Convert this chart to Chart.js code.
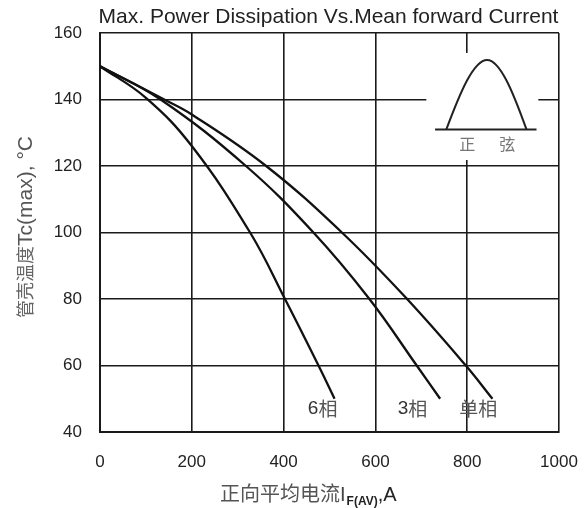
<!DOCTYPE html>
<html><head><meta charset="utf-8">
<script src="https://cdn.jsdelivr.net/npm/chart.js@4.4.1/dist/chart.umd.min.js"></script>
<style>html,body{margin:0;padding:0;background:#fff;overflow:hidden}</style>
</head><body>
<canvas id="c" width="588" height="508" style="width:588px;height:508px;display:block"></canvas>
<script>
// ---- data ----
const xTickValues = [0, 200, 400, 600, 800, 1000];
const yTickValues = [40, 60, 80, 100, 120, 140, 160];
const seriesNames = ['单相', '3相', '6相'];
const singleX = [0, 140, 200, 362, 527, 669, 797, 855];
const singleY = [150, 140, 135.5, 120, 100, 80, 60, 50];
const threeX = [0, 132, 318, 465, 587, 690, 741];
const threeY = [150, 140, 120, 100, 80, 60, 50];
const sixX = [0, 100, 200, 327, 403, 476, 511];
const sixY = [150, 140.5, 126, 100, 80, 60, 50];

const titleText = 'Max. Power Dissipation Vs.Mean forward Current';
const yTitleCn = '管壳温度', yTitleEn = 'Tc(max), °C';
const xTitleCn = '正向平均电流', xTitleI = 'I', xTitleSub = 'F(AV)', xTitleEnd = ',A';
const insetText = ['正', '弦'];

// label anchors (data units)
const seriesLabelPos = [[824, 47], [681, 47], [485, 47]];
// inset geometry in data units
const inset = {
  box: [711, 955, 154, 121.8],
  base: [730, 951, 131],
  hump: [754.6, 843.4, 929.1, 151.9],
  textY: 126.6, textX: [800, 887]
};

function pts(xs, ys) { return xs.map((v, i) => ({ x: v, y: ys[i] })); }
const seriesData = [pts(singleX, singleY), pts(threeX, threeY), pts(sixX, sixY)];

const LAT = '"Liberation Sans", Arial, sans-serif';
const CJK = '"Noto Sans CJK SC", sans-serif';

const decor = {
  id: 'decor',
  beforeDatasetsDraw(chart) {
    const { ctx, scales: { x, y } } = chart;
    ctx.save();
    const bx0 = x.getPixelForValue(inset.box[0]), bx1 = x.getPixelForValue(inset.box[1]);
    const by0 = y.getPixelForValue(inset.box[2]), by1 = y.getPixelForValue(inset.box[3]);
    ctx.fillStyle = '#fff';
    ctx.fillRect(bx0, by0, bx1 - bx0, by1 - by0);
    ctx.strokeStyle = '#222';
    ctx.lineWidth = 2;
    const baseY = y.getPixelForValue(inset.base[2]);
    ctx.beginPath();
    ctx.moveTo(x.getPixelForValue(inset.base[0]), baseY);
    ctx.lineTo(x.getPixelForValue(inset.base[1]), baseY);
    ctx.stroke();
    const hl = x.getPixelForValue(inset.hump[0]), hp = x.getPixelForValue(inset.hump[1]), hr = x.getPixelForValue(inset.hump[2]);
    const py = y.getPixelForValue(inset.hump[3]);
    const hgt = baseY - py, qw = hp - hl, qr = hr - hp;
    ctx.beginPath();
    ctx.moveTo(hl, baseY);
    ctx.bezierCurveTo(hl + qw / 3, baseY - hgt * 0.5236, hl + 2 * qw / 3, py, hp, py);
    ctx.bezierCurveTo(hp + qr / 3, py, hp + 2 * qr / 3, baseY - hgt * 0.5236, hr, baseY);
    ctx.stroke();
    ctx.fillStyle = '#777';
    ctx.font = '16px ' + CJK;
    ctx.textAlign = 'center';
    ctx.textBaseline = 'middle';
    const ty = y.getPixelForValue(inset.textY);
    insetText.forEach((t, i) => ctx.fillText(t, x.getPixelForValue(inset.textX[i]), ty));
    ctx.restore();
  },
  afterDraw(chart) {
    const { ctx, chartArea, scales: { x, y } } = chart;
    ctx.save();
    ctx.fillStyle = '#222';
    ctx.font = '21px ' + LAT;
    ctx.textAlign = 'center';
    ctx.textBaseline = 'alphabetic';
    ctx.fillText(titleText, (chartArea.left + chartArea.right) / 2 - 1, 22.5);

    ctx.textBaseline = 'middle';
    seriesNames.forEach((name, i) => {
      const cx = x.getPixelForValue(seriesLabelPos[i][0]);
      const cy = y.getPixelForValue(seriesLabelPos[i][1]);
      const digit = name.slice(0, name.length - 1);
      const han = name.slice(name.length - 1);
      let parts;
      if (/^[0-9]+$/.test(digit)) {
        parts = [[digit, '19px ' + LAT, '#333'], [han, '19px ' + CJK, '#555']];
      } else {
        parts = [[name, '19px ' + CJK, '#555']];
      }
      let w = 0;
      parts.forEach(p => { ctx.font = p[1]; w += ctx.measureText(p[0]).width; });
      let sx = cx - w / 2;
      ctx.textAlign = 'left';
      parts.forEach(p => { ctx.font = p[1]; ctx.fillStyle = p[2]; ctx.fillText(p[0], sx, cy); sx += ctx.measureText(p[0]).width; });
    });

    ctx.textAlign = 'left';
    ctx.textBaseline = 'alphabetic';
    let sx = 220;
    const base = 501;
    ctx.font = '20px ' + CJK; ctx.fillStyle = '#555';
    ctx.fillText(xTitleCn, sx, base); sx += ctx.measureText(xTitleCn).width;
    ctx.font = '20px ' + LAT; ctx.fillStyle = '#444';
    ctx.fillText(xTitleI, sx, base); sx += ctx.measureText(xTitleI).width + 1;
    ctx.font = 'bold 12px ' + LAT; ctx.fillStyle = '#222';
    ctx.fillText(xTitleSub, sx, base + 4); sx += ctx.measureText(xTitleSub).width;
    ctx.font = '20px ' + LAT; ctx.fillStyle = '#222';
    ctx.fillText(xTitleEnd, sx, base);

    ctx.translate(25, 227);
    ctx.rotate(-Math.PI / 2);
    ctx.textBaseline = 'middle';
    ctx.font = '18px ' + CJK; const w1 = ctx.measureText(yTitleCn).width;
    ctx.font = '21px ' + LAT; const w2 = ctx.measureText(yTitleEn).width;
    let yx = -(w1 + w2) / 2;
    ctx.font = '18px ' + CJK; ctx.fillStyle = '#666';
    ctx.fillText(yTitleCn, yx, 0); yx += w1;
    ctx.font = '21px ' + LAT; ctx.fillStyle = '#555';
    ctx.fillText(yTitleEn, yx, 1);
    ctx.restore();
  }
};

const gridStyle = { color: '#1a1a1a', lineWidth: 1.6, drawTicks: false };
const borderStyle = { display: true, color: '#1a1a1a', width: 2 };

new Chart(document.getElementById('c'), {
  type: 'line',
  data: {
    datasets: seriesData.map((d, i) => ({
      label: seriesNames[i],
      data: d,
      borderColor: '#111',
      borderWidth: 2.3,
      pointRadius: 0,
      fill: false,
      tension: 0.4
    }))
  },
  options: {
    responsive: false,
    animation: false,
    devicePixelRatio: 1,
    layout: { padding: { top: 33, right: 29, left: 0, bottom: 0 } },
    plugins: { legend: { display: false }, title: { display: false }, tooltip: { enabled: false } },
    scales: {
      x: {
        type: 'linear', min: 0, max: 1000,
        afterBuildTicks: s => { s.ticks = xTickValues.map(v => ({ value: v })); },
        afterFit: s => { s.height = 76; s.paddingRight = 0; s.paddingLeft = 0; },
        grid: gridStyle, border: borderStyle,
        ticks: { padding: 20, color: '#222', font: { family: LAT, size: 17 }, maxRotation: 0, callback: v => String(v) }
      },
      y: {
        type: 'linear', min: 40, max: 160,
        afterBuildTicks: s => { s.ticks = yTickValues.map(v => ({ value: v })); },
        afterFit: s => { s.width = 100; s.paddingTop = 0; s.paddingBottom = 0; },
        grid: gridStyle, border: borderStyle,
        ticks: { padding: 18, color: '#222', font: { family: LAT, size: 17 }, callback: v => String(v) }
      }
    }
  },
  plugins: [decor]
});
</script>
</body></html>
